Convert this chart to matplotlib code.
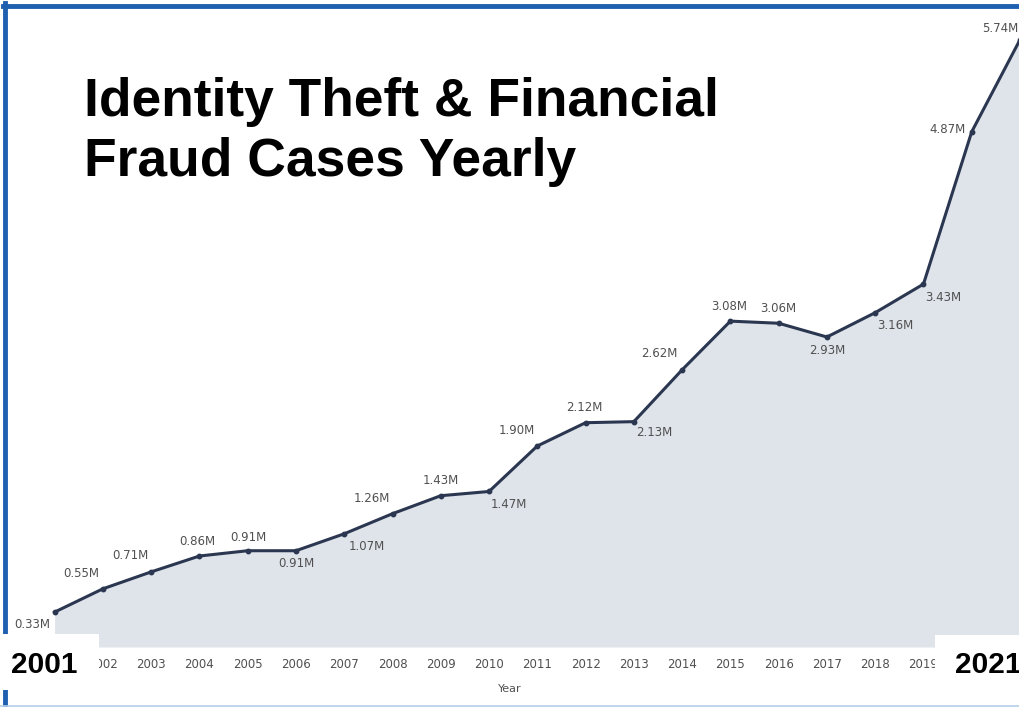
import matplotlib
matplotlib.use("Agg")
import matplotlib.pyplot as plt
from matplotlib.patches import Rectangle
from matplotlib.lines import Line2D

# ---- data ----
years = list(range(2001, 2022))
cases_m = [0.33, 0.55, 0.71, 0.86, 0.91, 0.91, 1.07, 1.26, 1.43, 1.47,
           1.90, 2.12, 2.13, 2.62, 3.08, 3.06, 2.93, 3.16, 3.43, 4.87, 5.74]
value_labels = [f"{v:.2f}M" for v in cases_m]
title_lines = ["Identity Theft & Financial", "Fraud Cases Yearly"]
x_label = "Year"
corner_labels = ["2001", "2021"]

# label offsets in pixels (dx, dy up-positive)
offsets = [(-22, -12), (-22, 15), (-21, 16), (-2, 15), (1, 13), (0, -13),
           (23, -13), (-21, 15), (0, 15), (20, -13), (-21, 15), (-1, 15),
           (20, -11), (-23, 16), (-1, 15), (0, 15), (0, -13), (20, -13),
           (20, -13), (-24, 2), (-20, 11)]

W, H = 1020, 707
fig = plt.figure(figsize=(W / 100, H / 100), dpi=100)
fig.patch.set_facecolor("white")

# pixel mapping
x0_px, step_px = 55, 48.6
zero_px, unit_px = 647, 105.8

ax = fig.add_axes([0, (H - zero_px) / H, 1, zero_px / H])
ax.set_xlim(2001 - x0_px / step_px, 2001 + (W - x0_px) / step_px)
ax.set_ylim(0, zero_px / unit_px)
ax.set_facecolor("none")
for s in ax.spines.values():
    s.set_visible(False)

ax.fill_between(years, cases_m, 0, color="#dfe3ea", lw=0, zorder=1)
ax.plot(years, cases_m, color="#2b3750", lw=2.2, marker="o", ms=3.2,
        zorder=3, clip_on=False)

for x, v, lab, (dx, dy) in zip(years, cases_m, value_labels, offsets):
    ax.annotate(lab, (x, v), xytext=(dx, dy), textcoords="offset pixels",
                ha="center", va="center", fontsize=8.5, color="#505050",
                family="DejaVu Sans", zorder=4, annotation_clip=False)

ax.set_yticks([])
ax.set_xticks(years)
ax.set_xticklabels([str(y) for y in years], fontsize=8.5, color="#505050")
ax.tick_params(axis="x", length=0, pad=8)
ax.set_xlabel(x_label, fontsize=8, color="#505050", labelpad=9)

# title
tf = dict(fontsize=38.4, fontweight="bold", family="Liberation Sans",
          color="black", ha="left", va="baseline")
fig.text(84 / W, 1 - 116 / H, title_lines[0], **tf)
fig.text(84 / W, 1 - 176 / H, title_lines[1], **tf)

# borders
fig.add_artist(Line2D([5 / W, 5 / W], [0, 1 - 3 / H], color="#1f5fb0",
                      lw=3.5, transform=fig.transFigure))
fig.add_artist(Line2D([3 / W, 1], [1 - 5.5 / H, 1 - 5.5 / H], color="#1f5fb0",
                      lw=3.5, transform=fig.transFigure))
fig.add_artist(Line2D([0, 1], [1 - 705.5 / H, 1 - 705.5 / H], color="#b4cfe8",
                      lw=1.2, transform=fig.transFigure))

# corner boxes
fig.add_artist(Rectangle((0, 1 - 690 / H), 99 / W, 56 / H,
                         transform=fig.transFigure, facecolor="white",
                         edgecolor="none", zorder=5))
fig.add_artist(Rectangle((935 / W, 1 - 690 / H), 85 / W, 55 / H,
                         transform=fig.transFigure, facecolor="white",
                         edgecolor="none", zorder=5))
cf = dict(fontsize=21.5, fontweight="bold", family="Liberation Sans",
          color="black", va="baseline", zorder=6)
fig.text(44 / W, 1 - 673 / H, corner_labels[0], ha="center", **cf)
fig.text(988 / W, 1 - 673 / H, corner_labels[1], ha="center", **cf)

fig.savefig("out.png", dpi=100)
